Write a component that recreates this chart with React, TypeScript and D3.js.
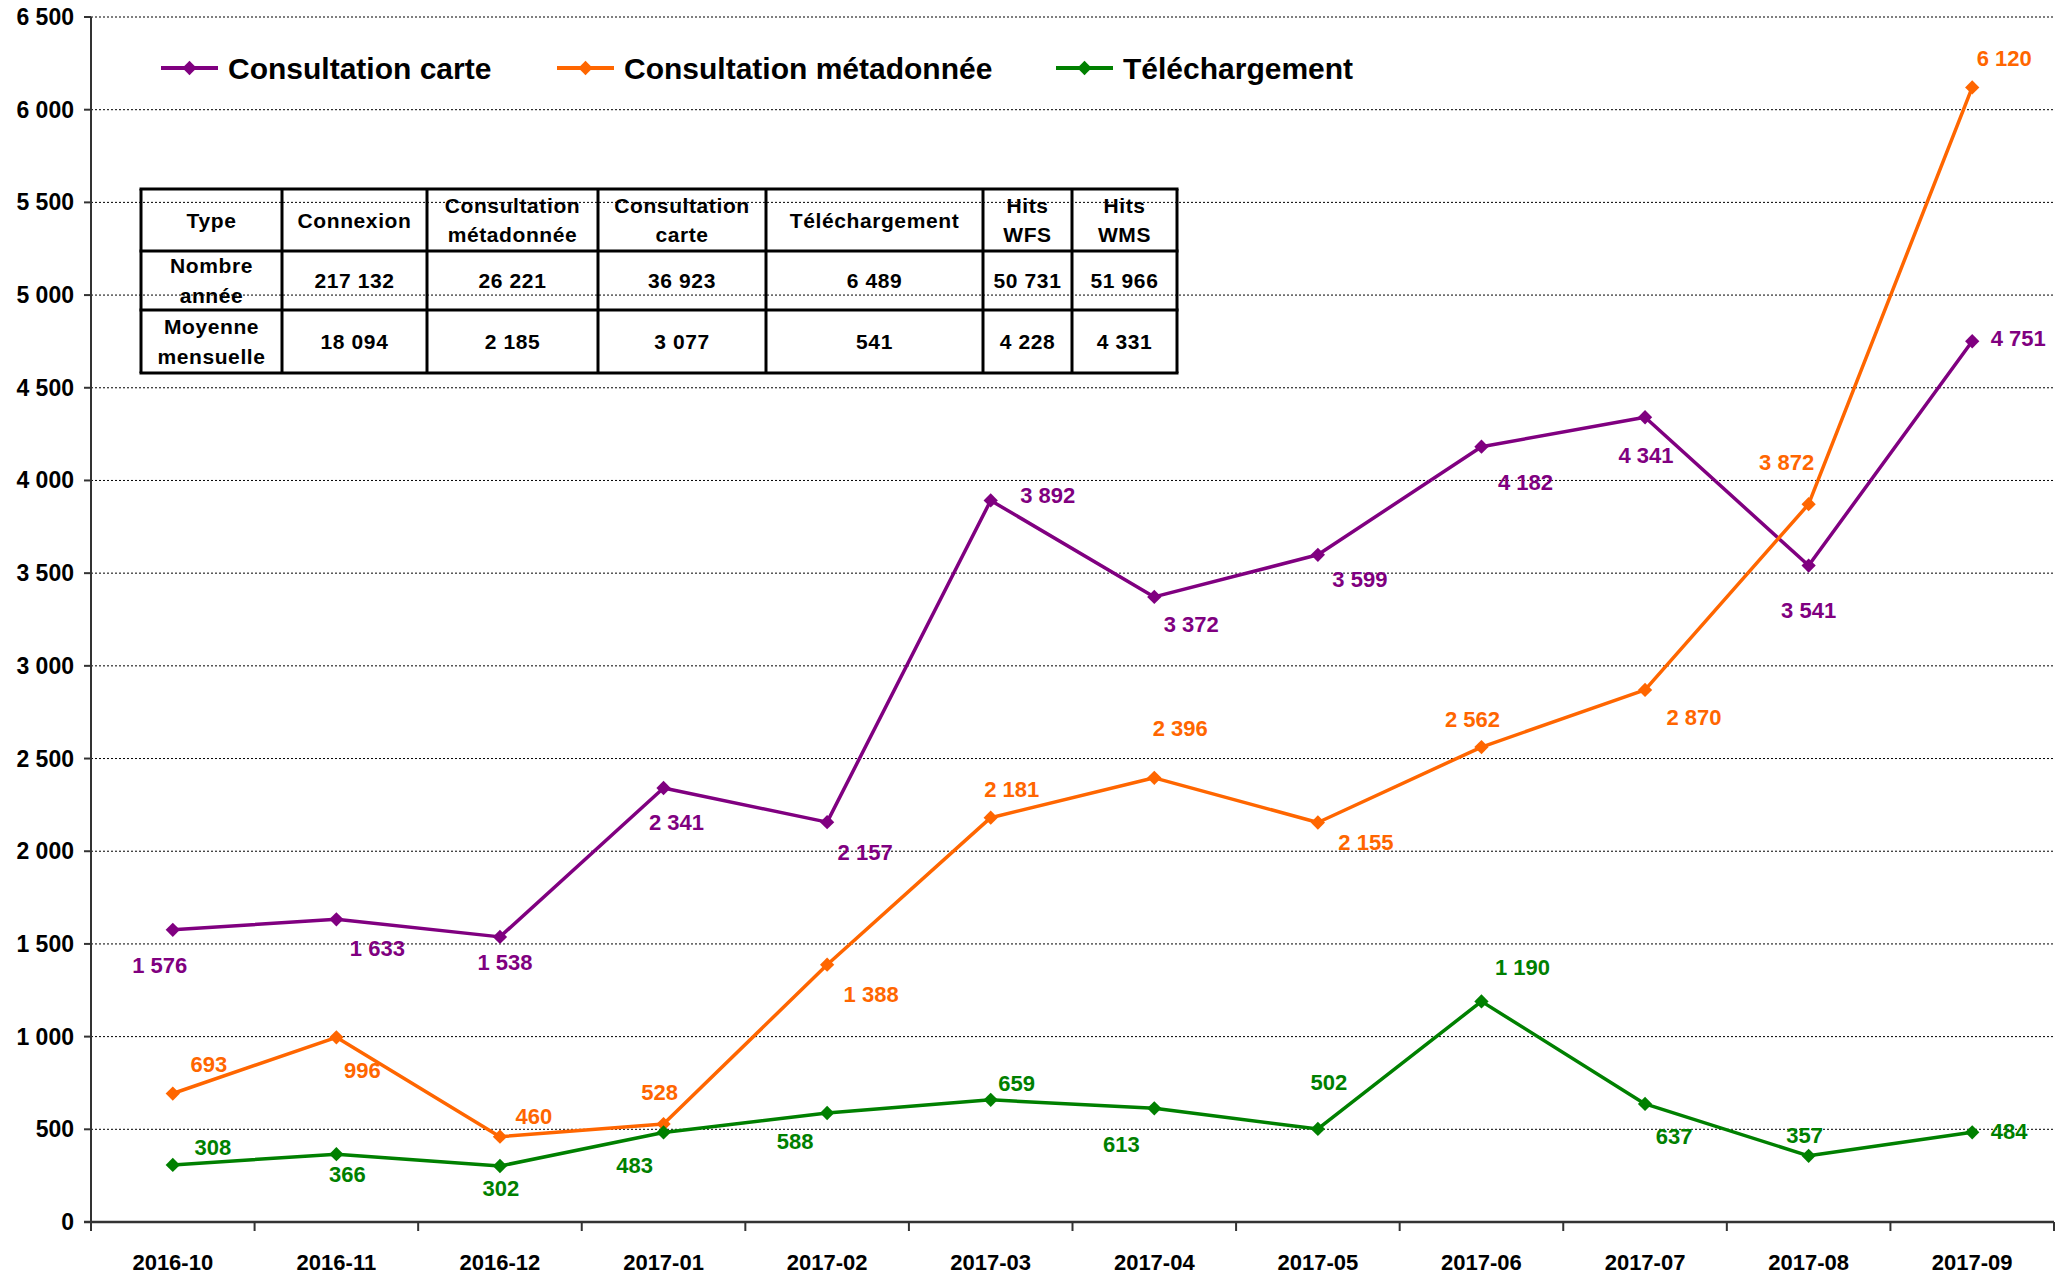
import React from 'react'
import * as d3 from 'd3'

const months = ['2016-10', '2016-11', '2016-12', '2017-01', '2017-02', '2017-03', '2017-04', '2017-05', '2017-06', '2017-07', '2017-08', '2017-09']
const carte = [1576, 1633, 1538, 2341, 2157, 3892, 3372, 3599, 4182, 4341, 3541, 4751]
const metadonnee = [693, 996, 460, 528, 1388, 2181, 2396, 2155, 2562, 2870, 3872, 6120]
const telechargement = [308, 366, 302, 483, 588, 659, 613, 502, 1190, 637, 357, 484]
const seriesNames = ['Consultation carte', 'Consultation métadonnée', 'Téléchargement']
const yTicks = [0, 500, 1000, 1500, 2000, 2500, 3000, 3500, 4000, 4500, 5000, 5500, 6000, 6500]

const tableHeader = ['Type', 'Connexion', 'Consultation\nmétadonnée', 'Consultation\ncarte', 'Téléchargement', 'Hits\nWFS', 'Hits\nWMS']
const rowNombre = ['Nombre\nannée', '217 132', '26 221', '36 923', '6 489', '50 731', '51 966']
const rowMoyenne = ['Moyenne\nmensuelle', '18 094', '2 185', '3 077', '541', '4 228', '4 331']

// layout
const W = 2069
const H = 1274
const left = 91
const right = 2054
const top = 17
const bottom = 1222
const colors = ['#800080', '#FF6600', '#008000']
const font = '"Liberation Sans", Arial, sans-serif'

// label offsets (dx, dy) from each point, per series
const labelOffsets = [
  [[-13, 36], [41, 29], [5, 26], [13, 34], [38, 30], [57, -5], [37, 28], [42, 25], [44, 36], [1, 38], [0, 45], [46, -3]],
  [[36, -29], [26, 33], [34, -20], [-4, -32], [44, 30], [21, -28], [26, -49], [48, 20], [-9, -28], [49, 28], [-22, -42], [32, -29]],
  [[40, -17], [11, 20], [1, 22], [-29, 33], [-32, 29], [26, -16], [-33, 36], [11, -46], [41, -34], [29, 33], [-4, -20], [37, -1]],
]

const tableCols = [141, 282, 427, 598, 766, 983, 1072, 1177]
const tableRows = [189, 251, 310, 373]

const fmt = d3.formatLocale({ decimal: ',', thousands: '\u00a0', grouping: [3], currency: ['', ''] }).format(',d')

const diamond = d3.symbol().type(d3.symbolDiamond2).size(130)

const App = () => {
  const xScale = d3.scaleBand().domain(months).range([left, right])
  const yScale = d3.scaleLinear().domain([0, 6500]).range([bottom, top])
  const cx = (m: string) => (xScale(m) as number) + xScale.bandwidth() / 2
  const allSeries = [carte, metadonnee, telechargement]

  const line = d3
    .line<number>()
    .x((_, i) => cx(months[i]))
    .y((d) => yScale(d))

  const legendX = [161, 557, 1056]
  const legendY = 68

  const multiline = (text: string, x: number, yc: number, size: number) => {
    const lines = text.split('\n')
    const lh = size * 1.4
    return lines.map((l, i) => (
      <text
        key={i}
        x={x}
        y={yc + (i - (lines.length - 1) / 2) * lh}
        textAnchor='middle'
        dominantBaseline='central'
        fontSize={size}
        fontWeight='bold'
        letterSpacing={0.6}
        fill='#000'
      >
        {l}
      </text>
    ))
  }

  const tableRowsData = [tableHeader, rowNombre, rowMoyenne]

  return (
    <svg width={W} height={H} style={{ position: 'absolute', left: 0, top: 0, background: '#fff' }} fontFamily={font}>
      {/* grid */}
      {yTicks.filter((t) => t > 0).map((t) => (
        <line key={t} x1={left} x2={right} y1={yScale(t)} y2={yScale(t)} stroke='#000' strokeWidth={1} strokeDasharray='2,2' />
      ))}
      {/* y axis */}
      <line x1={left} x2={left} y1={top} y2={bottom} stroke='#333' strokeWidth={2} />
      {yTicks.map((t) => (
        <g key={t}>
          <line x1={left - 7} x2={left} y1={yScale(t)} y2={yScale(t)} stroke='#333' strokeWidth={2} />
          <text x={left - 17} y={yScale(t)} textAnchor='end' dominantBaseline='central' fontSize={23} fontWeight='bold'>
            {fmt(t)}
          </text>
        </g>
      ))}
      {/* x axis */}
      <line x1={left - 7} x2={right} y1={bottom} y2={bottom} stroke='#333' strokeWidth={2.5} />
      {[...months.map((m) => xScale(m) as number), right].map((x, i) => (
        <line key={i} x1={x} x2={x} y1={bottom} y2={bottom + 9} stroke='#333' strokeWidth={2} />
      ))}
      {months.map((m) => (
        <text key={m} x={cx(m)} y={bottom + 40} textAnchor='middle' dominantBaseline='central' fontSize={22} fontWeight='bold'>
          {m}
        </text>
      ))}

      {/* table */}
      <g>
        {tableRowsData.map((row, r) =>
          row.map((cell, c) => {
            const x = (tableCols[c] + tableCols[c + 1]) / 2
            const y = (tableRows[r] + tableRows[r + 1]) / 2
            return <g key={`${r}-${c}`}>{multiline(cell, x, y, 21)}</g>
          })
        )}
        {tableCols.map((x, i) => (
          <line key={'c' + i} x1={x} x2={x} y1={tableRows[0]} y2={tableRows[tableRows.length - 1]} stroke='#000' strokeWidth={3} />
        ))}
        {tableRows.map((y, i) => (
          <line key={'r' + i} x1={tableCols[0] - 1.5} x2={tableCols[tableCols.length - 1] + 1.5} y1={y} y2={y} stroke='#000' strokeWidth={3} />
        ))}
      </g>

      {/* series */}
      {allSeries.map((s, si) => (
        <g key={si}>
          <path d={line(s) as string} fill='none' stroke={colors[si]} strokeWidth={3.5} strokeLinejoin='round' />
          {s.map((v, i) => (
            <path key={i} d={diamond() as string} transform={`translate(${cx(months[i])},${yScale(v)})`} fill={colors[si]} />
          ))}
          {s.map((v, i) => (
            <text
              key={'l' + i}
              x={cx(months[i]) + labelOffsets[si][i][0]}
              y={yScale(v) + labelOffsets[si][i][1]}
              textAnchor='middle'
              dominantBaseline='central'
              fontSize={22}
              fontWeight='bold'
              fill={colors[si]}
            >
              {fmt(v)}
            </text>
          ))}
        </g>
      ))}

      {/* legend */}
      {seriesNames.map((n, i) => (
        <g key={n}>
          <line x1={legendX[i]} x2={legendX[i] + 57} y1={legendY} y2={legendY} stroke={colors[i]} strokeWidth={4} />
          <path d={diamond() as string} transform={`translate(${legendX[i] + 28.5},${legendY})`} fill={colors[i]} />
          <text x={legendX[i] + 67} y={legendY} dominantBaseline='central' fontSize={30} fontWeight='bold'>
            {n}
          </text>
        </g>
      ))}
    </svg>
  )
}

export default App
